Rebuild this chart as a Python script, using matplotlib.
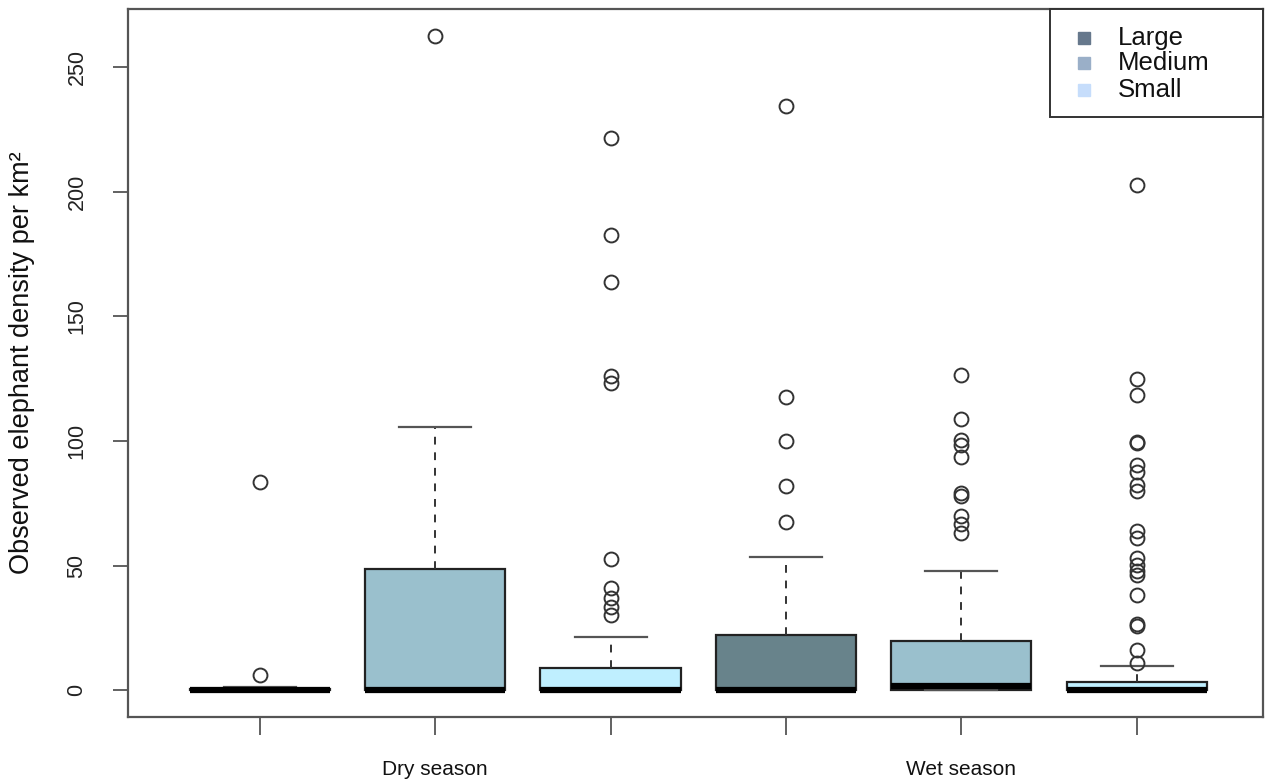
import matplotlib
matplotlib.use("Agg")
import matplotlib.pyplot as plt
from matplotlib.patches import Rectangle

plt.rcParams['font.family'] = ['Liberation Sans', 'DejaVu Sans']

# Groups in drawing order: season x size class
groups = ["Dry Large", "Dry Medium", "Dry Small", "Wet Large", "Wet Medium", "Wet Small"]
size_class = ["Large", "Medium", "Small", "Large", "Medium", "Small"]

# Box statistics (elephants per km²)
q1 = [0.0, 0.0, 0.0, 0.0, 0.0, 0.0]
median = [0.0, 0.0, 0.0, 0.0, 1.5, 0.0]
q3 = [0.6, 48.5, 8.8, 22.3, 19.6, 3.4]
whisker_low = [0.0, 0.0, 0.0, 0.0, 0.0, 0.0]
whisker_high = [1.3, 105.5, 21.3, 53.4, 47.9, 9.5]

outliers_dry_large = [6.2, 83.5]
outliers_dry_medium = [262.6]
outliers_dry_small = [30.2, 33.5, 37.0, 41.0, 52.6, 123.3, 126.0, 163.7, 182.7, 221.5]
outliers_wet_large = [67.6, 82.0, 99.8, 117.6, 234.2]
outliers_wet_medium = [63.0, 66.8, 70.0, 78.0, 79.2, 93.7, 98.3, 100.4, 108.7, 126.4]
outliers_wet_small = [10.8, 16.0, 25.6, 26.6, 38.2, 46.2, 48.0, 50.2, 53.2, 61.0,
                      64.0, 79.8, 82.3, 87.4, 90.2, 99.0, 99.5, 118.3, 124.8, 202.6]
outliers = [outliers_dry_large, outliers_dry_medium, outliers_dry_small,
            outliers_wet_large, outliers_wet_medium, outliers_wet_small]

season_labels = ["Dry season", "Wet season"]
y_ticks = [0, 50, 100, 150, 200, 250]
legend_labels = ["Large", "Medium", "Small"]

box_colors = {"Large": "#68838B", "Medium": "#9AC0CD", "Small": "#BFEFFF"}
legend_colors = {"Large": "#66788c", "Medium": "#9aafc8", "Small": "#c6ddfb"}

fig = plt.figure(figsize=(12.66, 7.82), dpi=100)
ax = fig.add_axes([0.101, 0.083, 0.8966, 0.9055])

stats = []
for i in range(len(groups)):
    stats.append(dict(label=groups[i], med=median[i], q1=q1[i], q3=q3[i],
                      whislo=whisker_low[i], whishi=whisker_high[i],
                      fliers=outliers[i]))

positions = list(range(1, len(groups) + 1))
bp = ax.bxp(stats, positions=positions, widths=0.8, patch_artist=True,
            showfliers=True,
            boxprops=dict(edgecolor="#222222", linewidth=1.6),
            whiskerprops=dict(color="#333333", linestyle=(0, (4, 4)), linewidth=1.4),
            capprops=dict(color="#555555", linewidth=1.6),
            capwidths=0.41,
            medianprops=dict(color="black", linewidth=4.5, solid_capstyle="butt"),
            flierprops=dict(marker="o", markerfacecolor="none",
                            markeredgecolor="#333333", markersize=10,
                            markeredgewidth=1.4, linestyle="none"))
for patch, cls in zip(bp["boxes"], size_class):
    patch.set_facecolor(box_colors[cls])

ax.set_xlim(0.247, 6.72)
ax.set_ylim(-10.8, 273.3)

for sp in ax.spines.values():
    sp.set_color("#555555")
    sp.set_linewidth(1.6)

ax.set_yticks(y_ticks)
ax.set_yticklabels([str(v) for v in y_ticks], rotation=90, va="center",
                   fontsize=15.5, color="#222222")
ax.tick_params(axis="y", direction="out", length=11, width=1.3, color="#555555", pad=18)

ax.set_xticks(positions)
ax.set_xticklabels(["", season_labels[0], "", "", season_labels[1], ""],
                   fontsize=15, color="#111111")
ax.tick_params(axis="x", direction="out", length=13, width=1.3, color="#555555", pad=18)

ax.set_ylabel("Observed elephant density per km²", fontsize=19.5, color="#111111")
ax.yaxis.set_label_coords(-0.082, 0.5)

# Legend panel in the top-right corner of the plotting region
ax.add_patch(Rectangle((0.8123, 0.8475), 0.1877, 0.1525, transform=ax.transAxes,
                       facecolor="white", edgecolor="#333333", linewidth=1.4,
                       zorder=5, clip_on=False))
row_y = [0.959, 0.9237, 0.8856]
for lbl, yy in zip(legend_labels, row_y):
    ax.plot([0.8423], [yy], marker="s", markersize=8.5, linestyle="none",
            color=legend_colors[lbl], transform=ax.transAxes, zorder=6, clip_on=False)
    ax.text(0.8722, yy, lbl, transform=ax.transAxes, fontsize=18.5,
            va="center", ha="left", color="#111111", zorder=6)

fig.savefig("out.png", dpi=100)
